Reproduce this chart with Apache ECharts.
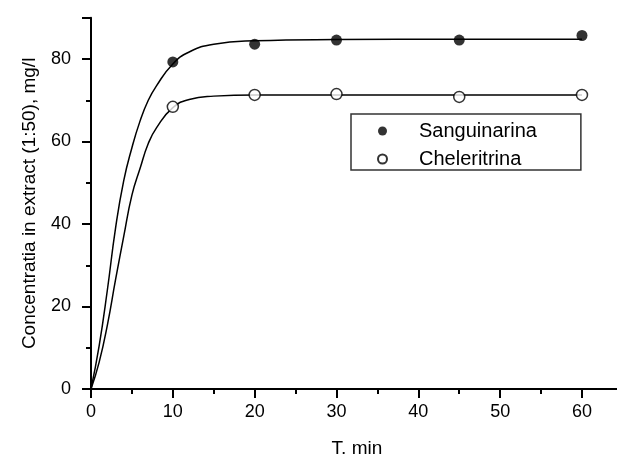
<!DOCTYPE html>
<html>
<head>
<meta charset="utf-8">
<script src="https://cdn.jsdelivr.net/npm/echarts@6/dist/echarts.min.js"></script>
<style>
  html, body { margin: 0; padding: 0; background: #fff; }
  #chart { width: 617px; height: 454px; }
</style>
</head>
<body>
<div id="chart"></div>
<script>
// measured points
var times = [10, 20, 30, 45, 60];
var sanguinarina = [79.3, 83.6, 84.6, 84.6, 85.7];
var cheleritrina = [68.4, 71.3, 71.5, 70.8, 71.3];

// fitted curves
var curveT = [0, 1, 2, 3, 4, 5, 6, 7, 8, 10, 12, 15, 20, 30, 45, 60];
var curveSang = [0, 10.5, 24, 39, 50.5, 58.5, 65, 70, 73.5, 78.8, 81.7, 83.6, 84.4, 84.7, 84.8, 84.8];
var curveChel = [0, 6.5, 15.5, 26.5, 37, 47, 53.5, 59.5, 63.3, 68.2, 70.2, 71, 71.3, 71.3, 71.3, 71.3];

var yTicks = [0, 20, 40, 60, 80];
var xTicks = [0, 10, 20, 30, 40, 50, 60];

var font = 'Liberation Sans, Arial, sans-serif';

function pairs(xs, ys) {
    return xs.map(function (x, i) { return [x, ys[i]]; });
}

var chart = echarts.init(document.getElementById('chart'), null, { renderer: 'canvas' });

var option = {
    animation: false,
    backgroundColor: '#fff',
    grid: { left: 91, top: 17.75, width: 531.9, height: 371.25, outerBoundsMode: 'none', containLabel: false },
    legend: {
        orient: 'vertical',
        left: 351,
        top: 114,
        padding: [7, 44, 1, 26],
        itemGap: 8,
        itemWidth: 9,
        itemHeight: 9,
        borderColor: '#333',
        borderWidth: 1.5,
        borderRadius: 0,
        formatter: function (name) { return '{g|}' + name; },
        textStyle: {
            fontFamily: font, fontSize: 20, color: '#000', lineHeight: 19,
            rich: { g: { width: 27 } }
        },
        data: ['Sanguinarina', 'Cheleritrina']
    },
    xAxis: {
        type: 'value',
        min: 0,
        max: 65,
        interval: 10,
        name: 'T, min',
        nameLocation: 'middle',
        nameGap: 50,
        nameTextStyle: { fontFamily: font, fontSize: 19, color: '#000' },
        splitLine: { show: false },
        axisLine: { onZero: false, lineStyle: { color: '#000', width: 2 } },
        axisTick: { inside: false, length: 9, lineStyle: { color: '#000', width: 2 } },
        minorTick: { show: true, splitNumber: 2, length: 5, lineStyle: { color: '#000', width: 2 } },
        axisLabel: {
            margin: 14,
            fontFamily: font, fontSize: 18, color: '#000',
            formatter: function (v) { return xTicks.indexOf(v) >= 0 ? String(v) : ''; }
        }
    },
    yAxis: {
        type: 'value',
        min: 0,
        max: 90,
        interval: 20,
        name: 'Concentratia in extract (1:50), mg/l',
        nameLocation: 'middle',
        nameGap: 52,
        nameTextStyle: { fontFamily: font, fontSize: 19, color: '#000' },
        splitLine: { show: false },
        axisLine: { show: true, onZero: false, lineStyle: { color: '#000', width: 2 } },
        axisTick: { show: true, inside: false, length: 9, lineStyle: { color: '#000', width: 2 } },
        minorTick: { show: true, splitNumber: 2, length: 5, lineStyle: { color: '#000', width: 2 } },
        axisLabel: {
            margin: 20,
            fontFamily: font, fontSize: 18, color: '#000',
            formatter: function (v) { return yTicks.indexOf(v) >= 0 ? String(v) : ''; }
        }
    },
    series: [
        {
            type: 'line',
            data: pairs(curveT, curveSang),
            smooth: 0.5,
            showSymbol: false,
            silent: true,
            lineStyle: { color: '#000', width: 1.5 },
            z: 1
        },
        {
            type: 'line',
            data: pairs(curveT, curveChel),
            smooth: 0.5,
            showSymbol: false,
            silent: true,
            lineStyle: { color: '#000', width: 1.5 },
            z: 1
        },
        {
            name: 'Sanguinarina',
            type: 'scatter',
            data: pairs(times, sanguinarina),
            symbol: 'circle',
            symbolSize: 11,
            itemStyle: { color: '#000' },
            z: 3
        },
        {
            name: 'Cheleritrina',
            type: 'scatter',
            data: pairs(times, cheleritrina),
            symbol: 'circle',
            symbolSize: 11,
            itemStyle: { color: '#fff', borderColor: '#000', borderWidth: 1.5 },
            z: 3
        }
    ]
};

chart.setOption(option);
</script>
</body>
</html>
